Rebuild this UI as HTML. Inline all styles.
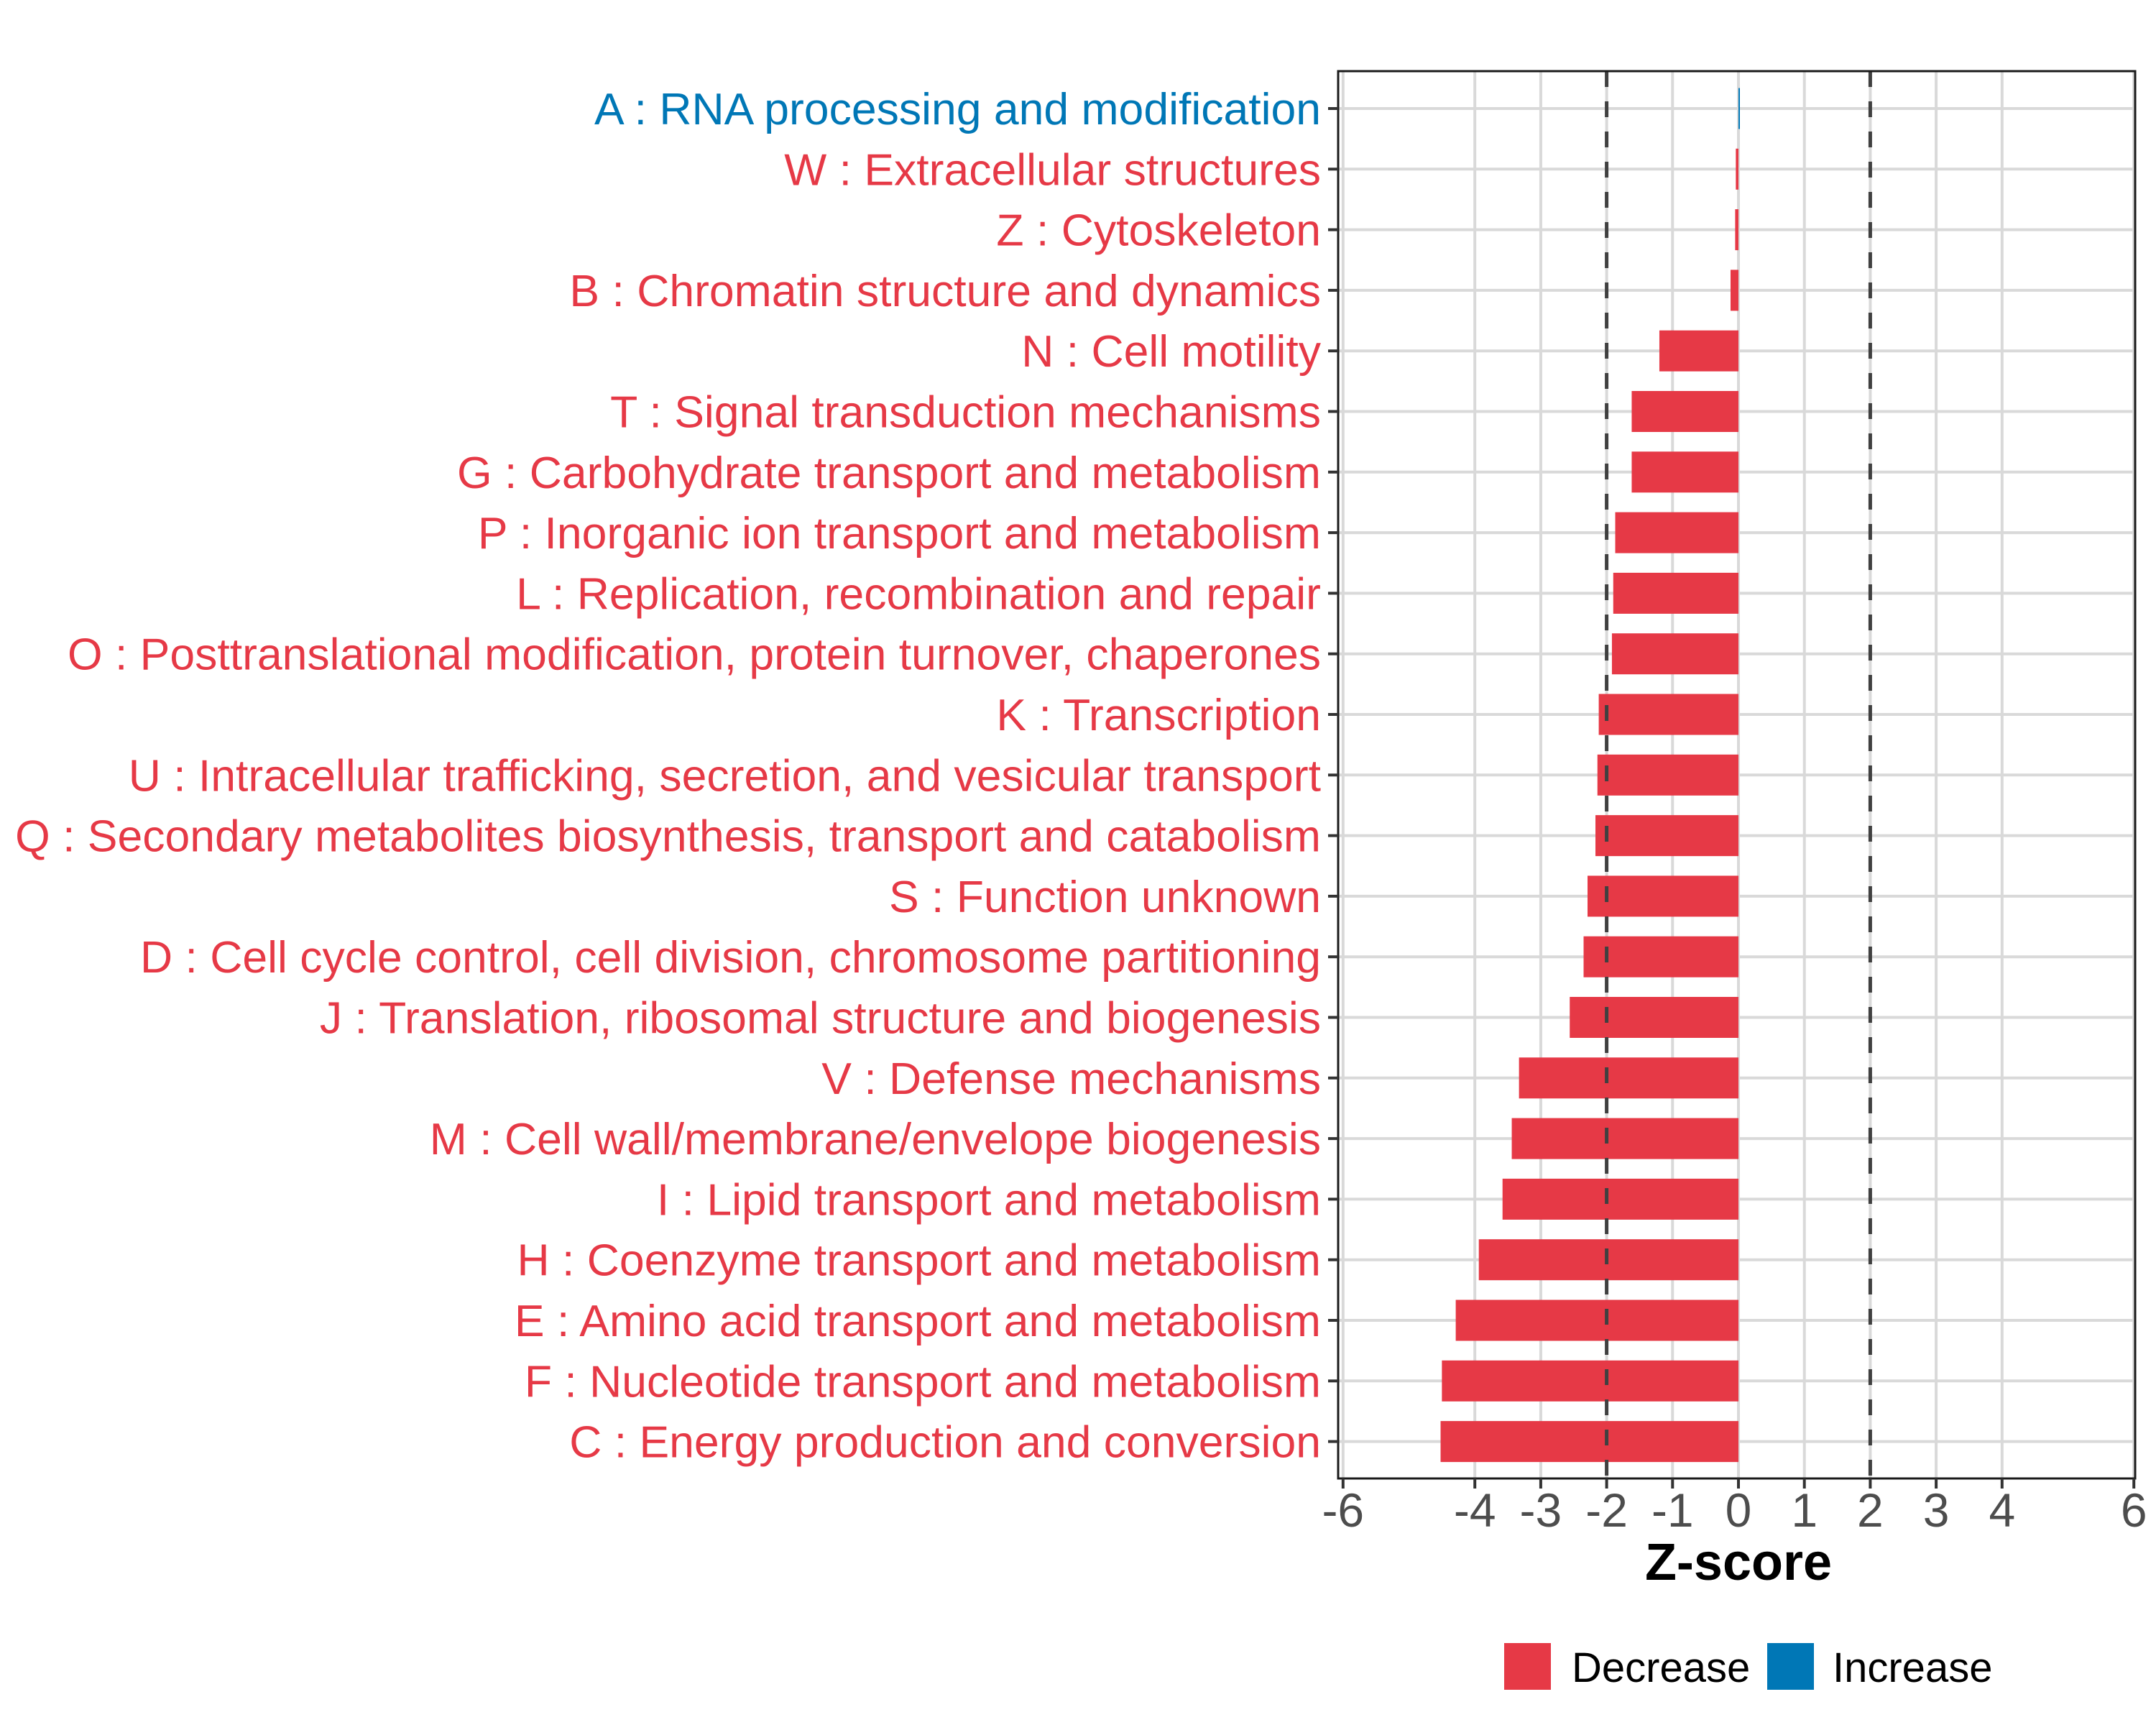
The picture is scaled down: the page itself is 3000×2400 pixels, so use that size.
<!DOCTYPE html>
<html><head><meta charset="utf-8"><style>
html,body{margin:0;padding:0;background:#fff}
svg{display:block;font-family:"Liberation Sans",Arial,sans-serif}
</style></head><body>
<svg id="chart" width="3000" height="2400" viewBox="0 0 3000 2400" xmlns="http://www.w3.org/2000/svg">
<rect x="0" y="0" width="3000" height="2400" fill="#fff"/>
<g id="grid"></g>
<g id="bars"></g>
<g id="refs"></g>
<rect x="1862" y="99" width="1109" height="1958" fill="none" stroke="#1a1a1a" stroke-width="3"/>
<g id="yaxis"></g>
<g id="xaxis"></g>
<text x="2419" y="2198" font-size="72" font-weight="bold" text-anchor="middle" fill="#000">Z-score</text>
<g>
<rect x="2093" y="2286" width="65" height="65" fill="#E63946"/>
<text x="2187" y="2340" font-size="58" fill="#000">Decrease</text>
<rect x="2459" y="2286" width="65" height="65" fill="#0077B6"/>
<text x="2550" y="2340" font-size="58" fill="#000">Increase</text>
</g>
</svg>
<script>
const categories = ["A : RNA processing and modification","W : Extracellular structures","Z : Cytoskeleton","B : Chromatin structure and dynamics","N : Cell motility","T : Signal transduction mechanisms","G : Carbohydrate transport and metabolism","P : Inorganic ion transport and metabolism","L : Replication, recombination and repair","O : Posttranslational modification, protein turnover, chaperones","K : Transcription","U : Intracellular trafficking, secretion, and vesicular transport","Q : Secondary metabolites biosynthesis, transport and catabolism","S : Function unknown","D : Cell cycle control, cell division, chromosome partitioning","J : Translation, ribosomal structure and biogenesis","V : Defense mechanisms","M : Cell wall/membrane/envelope biogenesis","I : Lipid transport and metabolism","H : Coenzyme transport and metabolism","E : Amino acid transport and metabolism","F : Nucleotide transport and metabolism","C : Energy production and conversion"];
const zscores = [0.02,-0.04,-0.05,-0.12,-1.2,-1.62,-1.62,-1.87,-1.9,-1.92,-2.12,-2.14,-2.17,-2.29,-2.35,-2.56,-3.33,-3.44,-3.58,-3.94,-4.29,-4.5,-4.52];
const xTicks = [-6,-4,-3,-2,-1,0,1,2,3,4,6];
const refLines = [-2,2];

const NS="http://www.w3.org/2000/svg";
const X0=2419, XU=91.7, Y0=151, YS=84.3, BH=57;
const xs=v=>X0+v*XU;
const ys=i=>Y0+i*YS;
function mk(tag,attrs,parent){const e=document.createElementNS(NS,tag);for(const k in attrs)e.setAttribute(k,attrs[k]);parent.appendChild(e);return e;}
const grid=document.getElementById('grid'),bars=document.getElementById('bars'),refs=document.getElementById('refs'),yax=document.getElementById('yaxis'),xax=document.getElementById('xaxis');
xTicks.forEach(t=>{
  const l=mk('line',{x1:xs(t),x2:xs(t),y1:99,y2:2057,stroke:'#D9D9D9','stroke-width':4},grid);
  
  
  const tk=mk('line',{x1:xs(t),x2:xs(t),y1:2057,y2:2071,stroke:'#333','stroke-width':4},xax);
  
  
  const tx=mk('text',{x:xs(t),y:2124,'font-size':66,'text-anchor':'middle',fill:'#4D4D4D'},xax);
  tx.textContent=String(t);
  
  
});
categories.forEach((c,i)=>{
  const y=ys(i);
  const g=mk('line',{x1:1862,x2:2971,y1:y,y2:y,stroke:'#D9D9D9','stroke-width':4},grid);
  
  
  const v=zscores[i];
  const x1=Math.min(xs(0),xs(v)), w=Math.max(Math.abs(xs(v)-xs(0)),2);
  const b=mk('rect',{x:x1,y:y-BH/2,width:w,height:BH,fill:v>=0?'#0077B6':'#E63946'},bars);
  
  
  const tk=mk('line',{x1:1848,x2:1862,y1:y,y2:y,stroke:'#333','stroke-width':4},yax);
  
  
  const tx=mk('text',{x:1838,y:y+22,'font-size':62.5,'text-anchor':'end',fill:v>=0?'#0077B6':'#E63946'},yax);
  tx.textContent=c;
  
  
});
refLines.forEach(r=>{
  const l=mk('line',{x1:xs(r),x2:xs(r),y1:99,y2:2057,stroke:'#404040','stroke-width':5,'stroke-dasharray':'22 20'},refs);
  
  
});
</script>
</body></html>
